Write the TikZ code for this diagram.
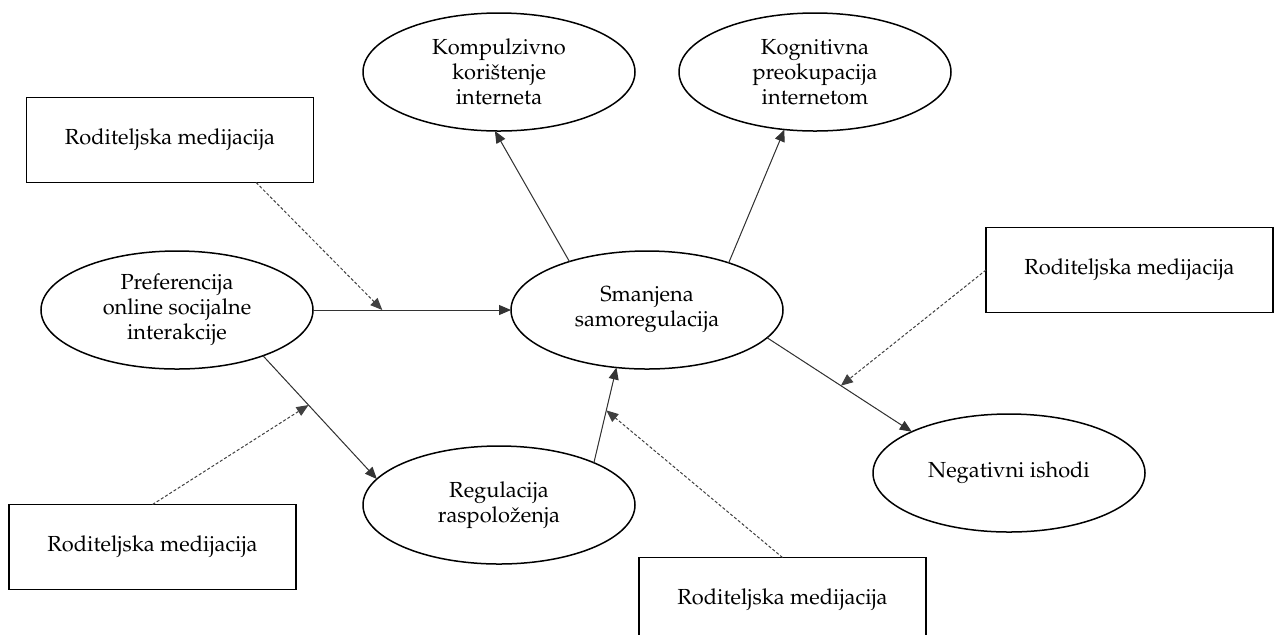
\documentclass[tikz,border=0pt]{standalone}
\usepackage[T1]{fontenc}
\renewcommand{\rmdefault}{ppl}
\usetikzlibrary{shapes.geometric,arrows.meta,calc}
\tikzset{
  ell/.style={ellipse, draw, line width=0.75pt, minimum width=136pt, minimum height=59pt, inner sep=0pt, outer sep=0pt, align=center, font=\fontsize{10.9}{12.5}\selectfont},
  mbox/.style={rectangle, draw, line width=0.75pt, minimum width=143.5pt, minimum height=42.5pt, inner sep=0pt, outer sep=0pt, font=\fontsize{10.9}{12.5}\selectfont},
  arr/.style={-{Triangle[length=6pt,width=5pt]}, line width=0.5pt, draw=black!80, fill=black},
  darr/.style={-{Triangle[length=6pt,width=5pt]}, line width=0.5pt, draw=black!75, dash pattern=on 1.5pt off 1pt},
}
\begin{document}
\begin{tikzpicture}[x=0.5pt,y=-0.5pt]
\clip (0,0) rectangle (1274,634);
\node[ell] (pref) at (177,310) {Preferencija\\online socijalne\\interakcije};
\node[ell] (sman) at (647,310) {Smanjena\\samoregulacija};
\node[ell] (komp) at (499,72) {Kompulzivno\\kori\v{s}tenje\\interneta};
\node[ell] (kogn) at (815,72) {Kognitivna\\preokupacija\\internetom};
\node[ell] (reg) at (499,505) {Regulacija\\raspolo\v{z}enja};
\node[ell] (neg) at (1009,473) {Negativni ishodi};
\node[mbox] (b1) at (170,140) {Roditeljska medijacija};
\node[mbox] (b2) at (1129.5,270) {Roditeljska medijacija};
\node[mbox] (b3) at (152.5,547) {Roditeljska medijacija};
\node[mbox] (b4) at (782.5,600) {Roditeljska medijacija};
\draw[arr] (pref.east) -- coordinate[pos=0.35] (m1) (sman.west);
\draw[arr] (sman.148) -- (komp.266);
\draw[arr] (sman.30) -- (kogn.242);
\draw[arr] (sman.347) -- coordinate[pos=0.51] (m2) (neg.157);
\draw[arr] (pref.332) -- coordinate[pos=0.4] (m3) (reg.168);
\draw[arr] (reg.24) -- coordinate[pos=0.55] (m4) (sman.242);
\draw[darr] ($(b1.south west)!0.8!(b1.south east)$) -- (m1);
\draw[darr] (b2.west) -- (m2);
\draw[darr] (b3.north) -- (m3);
\draw[darr] (b4.north) -- (m4);
\end{tikzpicture}
\end{document}
